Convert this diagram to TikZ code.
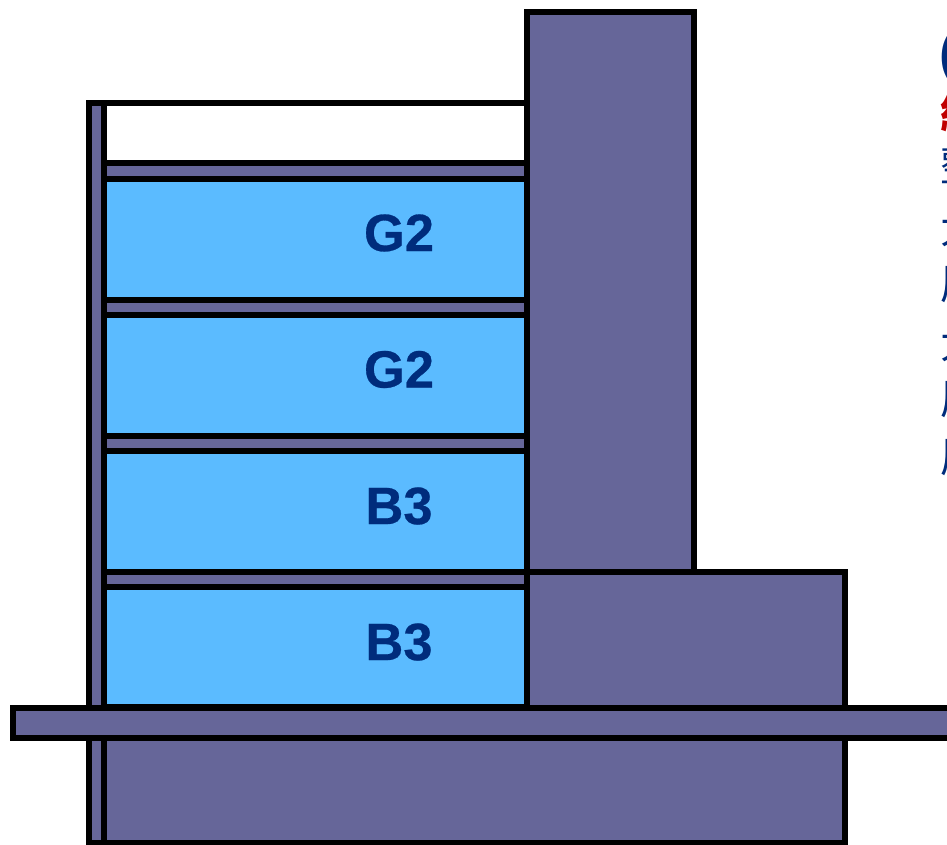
\documentclass[tikz,border=0pt]{standalone}
\usepackage{fontspec}
\setmainfont{Liberation Sans}
\newfontfamily\cjk{Noto Sans CJK TC}
\definecolor{wallc}{HTML}{666699}
\definecolor{cellc}{HTML}{5BBBFF}
\definecolor{inkc}{HTML}{002C7C}
\definecolor{redc}{HTML}{C00000}
\tikzset{
  part/.style={draw=black,line width=6pt,fill=wallc,line join=miter},
  room/.style={draw=black,line width=6pt,fill=cellc},
  lab/.style={font=\fontsize{52.5}{52.5}\selectfont\bfseries\addfontfeature{FakeBold=0.5},text=inkc,inner sep=0pt},
  side/.style={font=\cjk\fontsize{42}{42}\selectfont,text=inkc,anchor=west,inner sep=0pt}
}
\begin{document}
\begin{tikzpicture}[x=1pt,y=-1pt]
\useasboundingbox (0,0) rectangle (947,845);
\clip (0,0) rectangle (947,845);
\fill[white] (0,0) rectangle (947,845);
\draw[draw=black,line width=6pt,fill=white] (104,103) rectangle (527,163);
\draw[room] (104,179) rectangle (527,300);
\draw[room] (104,315) rectangle (527,436);
\draw[room] (104,451) rectangle (527,572);
\draw[room] (104,587) rectangle (527,707);
\draw[part] (104,163) rectangle (527,179);
\draw[part] (104,300) rectangle (527,315);
\draw[part] (104,436) rectangle (527,451);
\draw[part] (104,572) rectangle (527,587);
\draw[part] (89,103) rectangle (104,843);
\draw[part] (104,738) rectangle (845,843);
\draw[part] (527,12) rectangle (694,572);
\draw[part] (527,572) rectangle (845,707.5);
\draw[part] (13,707.5) rectangle (960,738);
\node[lab] (g2a) at (399,233) {G2};
\node[lab] (g2b) at (399,369.5) {G2};
\node[lab] (b3a) at (399,506) {B3};
\node[lab] (b3b) at (399,642) {B3};
\node[font=\fontsize{54}{54}\selectfont\bfseries,text=inkc,anchor=west,inner sep=0pt] (t0) at (939,58) {(};
\node[side,text=redc] (t1) at (940.5,112) {\bfseries 結};
\node[side] (t2) at (940.5,165) {整};
\node[side] (t3) at (940.5,228) {大};
\node[side] (t4) at (940.5,285) {厚};
\node[side] (t5) at (940.5,343) {大};
\node[side] (t6) at (940.5,400) {厚};
\node[side] (t7) at (940.5,458) {厚};
\end{tikzpicture}
\end{document}
